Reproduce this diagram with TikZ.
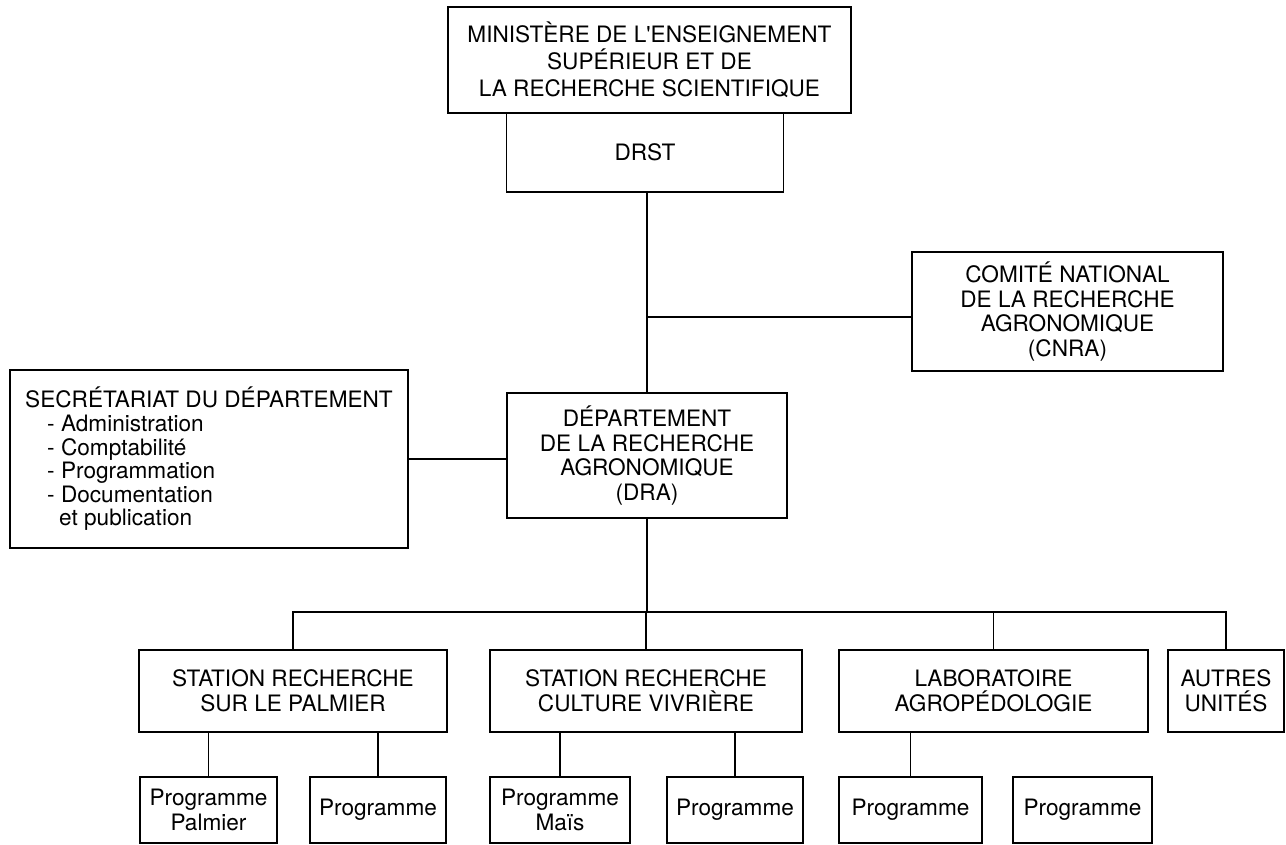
\documentclass[tikz,border=0pt]{standalone}
\usepackage{fontspec}
\setmainfont{TeX Gyre Heros}
\usepackage{tikz}
\usetikzlibrary{arrows.meta}
\tikzset{>=latex}
\tikzset{
    box/.style={
        draw,
        line width=0.9pt,
        align=center,
        inner sep=0pt,
        font=\fontsize{11.3}{12.3}\selectfont,
    },
    link/.style={line width=0.9pt},
}

\begin{document}
\begin{tikzpicture}[x=0.5pt, y=-0.5pt]
        \useasboundingbox (0,0) rectangle (1286,845);

        % ministere and drst
        \node[box, minimum width=201.5pt, minimum height=53pt,
            font=\fontsize{11.3}{13.5}\selectfont]
            (min) at (649.5,60) {MINISTÈRE DE L\textquotesingle ENSEIGNEMENT\\SUPÉRIEUR ET DE\\LA RECHERCHE SCIENTIFIQUE};
        \node[box, minimum width=138.5pt, minimum height=39.5pt] (drst) at (645,152.5) {DRST};

        % comite national
        \node[box, minimum width=155.5pt, minimum height=59.5pt]
            (cnra) at (1067.5,311.5) {COMITÉ NATIONAL\\DE LA RECHERCHE\\AGRONOMIQUE\\(CNRA)};

        % departement
        \node[box, minimum width=140pt, minimum height=62.5pt]
            (dra) at (647,455.5) {DÉPARTEMENT\\DE LA RECHERCHE\\AGRONOMIQUE\\(DRA)};

        % secretariat
        \node[box, align=left, minimum width=199pt, minimum height=89pt,
            font=\fontsize{11.3}{11.8}\selectfont]
            (sec) at (209,459) {SECRÉTARIAT DU DÉPARTEMENT\\
            \hspace*{11pt}- Administration\\
            \hspace*{11pt}- Comptabilité\\
            \hspace*{11pt}- Programmation\\
            \hspace*{11pt}- Documentation\\
            \hspace*{17pt}et publication};

        % stations
        \node[box, minimum width=154pt, minimum height=41pt] (pal) at (293,691) {STATION RECHERCHE\\SUR LE PALMIER};
        \node[box, minimum width=156pt, minimum height=41pt] (cul) at (646,691) {STATION RECHERCHE\\CULTURE VIVRIÈRE};
        \node[box, minimum width=154.5pt, minimum height=41pt] (lab) at (993.5,691) {LABORATOIRE\\AGROPÉDOLOGIE};
        \node[box, minimum width=58pt, minimum height=41pt] (aut) at (1226,691) {AUTRES\\UNITÉS};

        % programmes
        \node[box, minimum width=68.5pt, minimum height=33pt] (p1) at (208.5,810) {Programme\\Palmier};
        \node[box, minimum width=68pt, minimum height=33pt] (p2) at (378,810) {Programme};
        \node[box, minimum width=70pt, minimum height=33pt] (p3) at (560,810) {Programme\\Maïs};
        \node[box, minimum width=68pt, minimum height=33pt] (p4) at (735,810) {Programme};
        \node[box, minimum width=71.5pt, minimum height=33pt] (p5) at (910.5,810) {Programme};
        \node[box, minimum width=69.5pt, minimum height=33pt] (p6) at (1082.5,810) {Programme};

        % links
        \coordinate (bus) at (0,612);
        \coordinate (cnrain) at ([yshift=-2.75pt]cnra.west);
        \draw[link] (dra.north) -- (dra.north |- drst.south);
        \draw[link] (dra.north |- cnrain) -- (cnrain);
        \draw[link] (sec.east) -- (sec.east -| dra.west);
        \draw[link] (dra.south) -- (dra.south |- bus);
        \draw[link] (pal.north) -- (pal.north |- bus) -- (aut.north |- bus) -- (aut.north);
        \draw[link] (cul.north) -- (cul.north |- bus);
        \draw[link] (lab.north) -- (lab.north |- bus);

        \draw[link] (p1.north) -- (p1.north |- pal.south);
        \draw[link] (p2.north) -- (p2.north |- pal.south);
        \draw[link] (p3.north) -- (p3.north |- cul.south);
        \draw[link] (p4.north) -- (p4.north |- cul.south);
        \draw[link] (p5.north) -- (p5.north |- lab.south);
    \end{tikzpicture}
\end{document}
